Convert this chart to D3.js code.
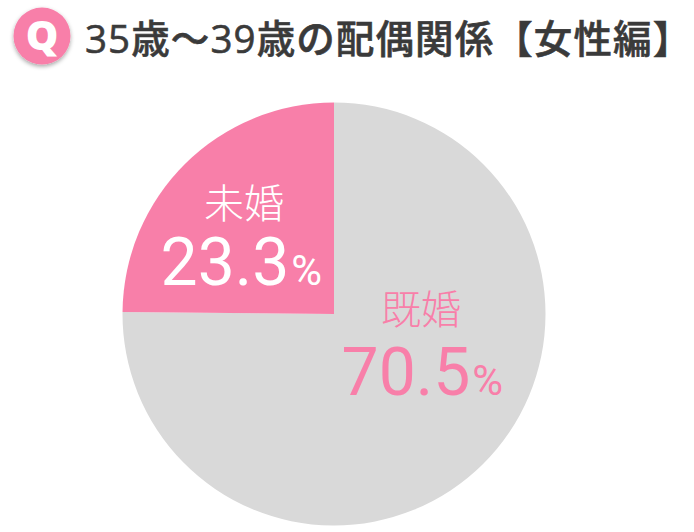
<!DOCTYPE html>
<html><head><meta charset="utf-8">
<script src="https://cdn.jsdelivr.net/npm/d3@7"></script>
<style>html,body{margin:0;padding:0;background:#fff;overflow:hidden}svg{display:block}</style>
</head><body><div id="c"></div>
<script>
const categories = ["既婚","未婚"];
const values = [70.5,23.3];
const sliceColors = ["#d9d9d9","#f87fa9"];
const titleText = "35歳～39歳の配偶関係【女性編】";
const W=694,H=532,cx=334,cy=314,R=211.5;
const svg=d3.select("#c").append("svg").attr("width",W).attr("height",H);
const defs=svg.append("defs");
const f=defs.append("filter").attr("id","sh").attr("x","-30%").attr("y","-30%").attr("width","160%").attr("height","160%");
f.append("feDropShadow").attr("dx",0).attr("dy",2).attr("stdDeviation",2).attr("flood-color","#000").attr("flood-opacity",.35);
svg.append("circle").attr("cx",42).attr("cy",36).attr("r",28.5).attr("fill","#f87fa9").attr("filter","url(#sh)");
svg.append("text").attr("x",42).attr("y",50).attr("text-anchor","middle").attr("font-family","'Open Sans'").attr("font-weight",800).attr("font-size",41).attr("fill","#fff").text("Q");
svg.append("text").attr("x",85).attr("y",53).attr("font-family","'Open Sans','Noto Sans CJK JP'").attr("font-weight",500).attr("font-size",38.5).attr("letter-spacing",1.1).attr("fill","#3a3a3a").attr("stroke","#3a3a3a").attr("stroke-width",0.6).text(titleText);
const pie=d3.pie().sort(null).value(d=>d);
const arc=d3.arc().innerRadius(0).outerRadius(R);
svg.append("g").attr("transform",`translate(${cx},${cy})`).selectAll("path").data(pie(values)).join("path").attr("d",arc).attr("fill",(d,i)=>sliceColors[i]);
const labels=[{x:421,yl:324,yv:395,xp:503,c:"#f87fa9",i:0},{x:244,yl:218,yv:285,xp:322,c:"#fff",i:1}];
labels.forEach(l=>{
 svg.append("text").attr("x",l.x).attr("y",l.yl).attr("text-anchor","middle").attr("font-family","'Noto Sans CJK JP'").attr("font-size",40).attr("font-weight",300).attr("fill",l.c).text(categories[l.i]);
 const t=svg.append("text").attr("x",l.xp).attr("y",l.yv).attr("text-anchor","end").attr("font-family","Roboto").attr("fill",l.c);
 t.append("tspan").attr("font-size",66).text(values[l.i].toFixed(1));
 t.append("tspan").attr("font-size",42).attr("dx",2).text("%");
});
</script></body></html>
